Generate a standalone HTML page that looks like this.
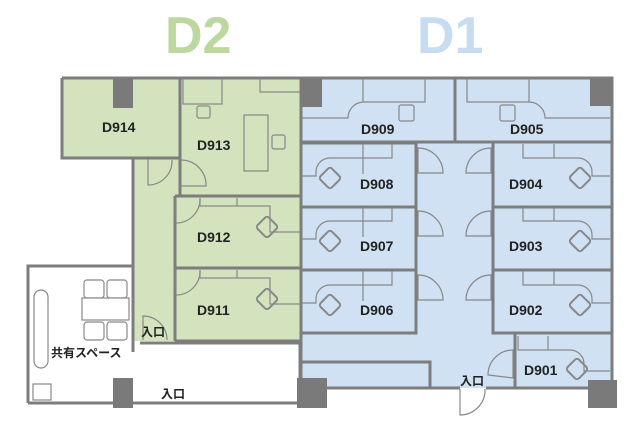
<!DOCTYPE html>
<html><head><meta charset="utf-8"><style>
html,body{margin:0;padding:0;background:#fff;}
svg{display:block;}
text{font-family:"Liberation Sans","Noto Sans CJK JP",sans-serif;font-weight:bold;fill:#222;}
</style></head><body>
<svg width="640" height="429" viewBox="0 0 640 429" xmlns="http://www.w3.org/2000/svg">
<defs>
<g id="dia"><rect x="-8" y="-8" width="16" height="16" rx="3" transform="rotate(45)" fill="none" stroke="#888" stroke-width="2"/></g>
</defs>
<text x="165" y="53" font-size="52" style="fill:#bcd89e">D2</text>
<text x="417" y="53" font-size="52" style="fill:#c6dcf0">D1</text>

<rect x="62" y="78" width="118" height="80" fill="#d2e3bd"/>
<rect x="180" y="78" width="121" height="118" fill="#d2e3bd"/>
<rect x="133" y="158" width="47" height="183" fill="#d2e3bd"/>
<rect x="175" y="196" width="126" height="145" fill="#d2e3bd"/>
<rect x="301" y="78" width="311" height="310" fill="#cfe1f2"/>

<g fill="none" stroke="#7d7d7d" stroke-width="3">
<path d="M62 78 H612 V388 H515"/>
<path d="M62 78 V158 H180 M133 158 V352"/>
<path d="M180 78 V196"/>
<path d="M175 196 H301 M175 196 V341 M175 268 H301 M175 341 H301"/>
<path d="M301 78 V388 H430 V362 H301"/>
<path d="M28 403 H115 M28 403 V266 H133"/>
<path d="M140 343 H300 M300 343 V403"/>
<path d="M130 403 H300"/>
<path d="M301 142 H611 M455 78 V142"/>
<path d="M301 143 H416 V333 H301 M301 207 H416 M301 270 H416"/>
<path d="M493 143 V333 H611 M493 207 H611 M493 270 H611"/>
<path d="M515 333 V388 M430 388 H460 M486 388 H515"/>
</g>
<g fill="none" stroke="#888" stroke-width="1.2">
<path d="M148 159 V185 A24 24 0 0 0 172 160"/>
<path d="M181 160 A25 25 0 0 1 206 186 H181"/>
<path d="M176 198 V223 A24 24 0 0 0 200 198"/>
<path d="M200 198 V206 H237 V198 M237 206 H270 V232 H301"/>
<path d="M176 270 V295 A24 24 0 0 0 200 270"/>
<path d="M200 270 V278 H237 V270 M237 278 H270 V304 H301"/>
<path d="M143 340 V316 A24 24 0 0 1 167 340"/>
<rect x="244" y="115" width="24" height="56"/>
<rect x="197" y="106" width="13" height="12" rx="2"/>
<rect x="272" y="135" width="13" height="14" rx="2"/>
<path d="M183 78 V104 H222 V78 M260 78 V92 H300"/>
<rect x="84" y="280" width="20" height="18" rx="3"/><rect x="107" y="280" width="20" height="18" rx="3"/>
<rect x="84" y="322" width="20" height="18" rx="3"/><rect x="107" y="322" width="20" height="18" rx="3"/>
<rect x="82" y="298" width="47" height="22" fill="#fff"/>
<rect x="34" y="290" width="14" height="78" rx="7"/>
<rect x="33" y="384" width="18" height="16"/>
<path d="M363 78 V102 H425 V78 M363 102 A16 16 0 0 0 348 118 H302"/>
<rect x="399" y="105" width="15" height="16" rx="2"/>
<path d="M529 78 V102 H467 V78 M529 102 A16 16 0 0 1 545 118 H610"/>
<rect x="500" y="105" width="15" height="16" rx="2"/>
<g id="lroom"><path d="M363 144 V158 H392 V144 M363 158 V174 M363 158 H330 A14 14 0 0 0 316 172 V176 H302"/>
<path d="M418 173 V148 A25 25 0 0 1 443 173 Z"/></g>
<use href="#lroom" y="63"/><use href="#lroom" y="127"/>
<g id="rroom"><path d="M554 144 V158 H523 V144 M554 158 H578 A14 14 0 0 1 592 172 V176 H610"/>
<path d="M491 173 V148 A25 25 0 0 0 466 173 Z"/></g>
<use href="#rroom" y="63"/><use href="#rroom" y="127"/>
<path d="M518 336 V350 H548 V336 M548 350 H570 A14 14 0 0 1 584 364 V371 H610"/>
<path d="M513 378 V350 A25 25 0 0 0 488 375 Z"/>
<path d="M460 389 V415 A25 25 0 0 0 485 389"/>
</g>
<use href="#dia" x="267" y="227"/><use href="#dia" x="267" y="299"/>
<use href="#dia" x="330" y="178"/><use href="#dia" x="330" y="241"/><use href="#dia" x="330" y="305"/>
<use href="#dia" x="580" y="178"/><use href="#dia" x="580" y="241"/><use href="#dia" x="580" y="305"/>
<use href="#dia" x="577" y="369"/>
<g fill="#7a7a7a">
<rect x="113" y="78" width="20" height="30"/>
<rect x="300" y="78" width="22" height="29"/>
<rect x="590" y="78" width="22" height="28"/>
<rect x="113" y="378" width="20" height="30"/>
<rect x="297" y="378" width="30" height="30"/>
<rect x="588" y="380" width="29" height="28"/>
</g>
<g font-size="14">
<text x="102" y="132">D914</text>
<text x="197" y="150">D913</text>
<text x="197" y="242">D912</text>
<text x="197" y="315">D911</text>
<text x="361" y="134">D909</text>
<text x="510" y="134">D905</text>
<text x="360" y="189">D908</text>
<text x="509" y="189">D904</text>
<text x="360" y="251">D907</text>
<text x="509" y="251">D903</text>
<text x="360" y="315">D906</text>
<text x="509" y="315">D902</text>
<text x="524" y="375">D901</text>
</g>
<g font-size="12">
<text x="141" y="336">入口</text>
<text x="161" y="398">入口</text>
<text x="460" y="385">入口</text>
<text x="51" y="357">共有スペース</text>
</g>
</svg>
</body></html>
